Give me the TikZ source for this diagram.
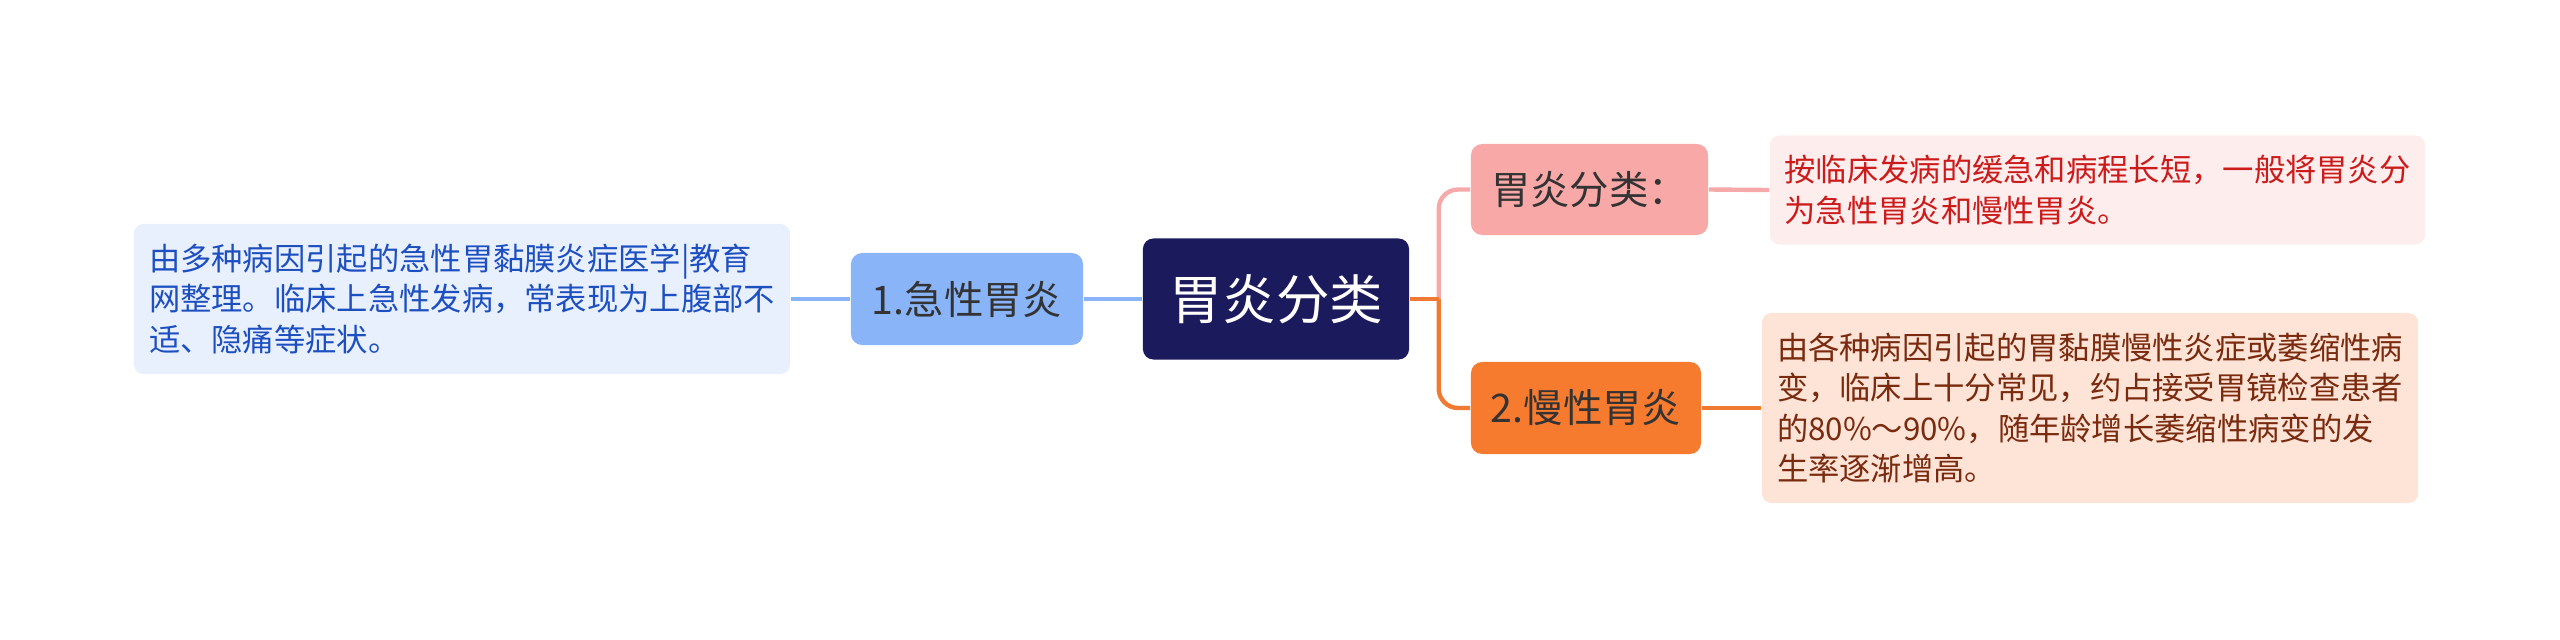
\documentclass[tikz,border=0pt]{standalone}
\usepackage{fontspec}
\setmainfont{Noto Sans CJK SC}
\definecolor{rootfill}{HTML}{1B1A5C}
\definecolor{acutefill}{HTML}{8AB4F8}
\definecolor{leafLfill}{HTML}{E8F0FE}
\definecolor{leafLtext}{HTML}{1D4FC0}
\definecolor{clsfill}{HTML}{F9A8A8}
\definecolor{leafTRfill}{HTML}{FDEDED}
\definecolor{leafTRtext}{HTML}{CC1B1B}
\definecolor{chronfill}{HTML}{F77B2F}
\definecolor{leafBRfill}{HTML}{FDE4D6}
\definecolor{leafBRtext}{HTML}{7A2A0E}
\definecolor{bluel}{HTML}{8AB4F8}
\definecolor{pinkl}{HTML}{F6A9A9}
\definecolor{orangel}{HTML}{F17A33}
\definecolor{midtext}{HTML}{333333}
\tikzset{
  box/.style={rectangle, inner sep=0pt, anchor=center},
  leafbox/.style={box, rounded corners=2.8pt, align=left, font=\fontsize{8.9pt}{11.5pt}\selectfont},
  midbox/.style={box, rounded corners=3.2pt, text=midtext, font=\fontsize{11.2pt}{13pt}\selectfont},
  rootbox/.style={box, rounded corners=3pt, fill=rootfill, text=white, font=\fontsize{15.2pt}{17pt}\selectfont},
  conn/.style={line width=1.25pt},
}
\begin{document}
\begin{tikzpicture}[x=0.01cm,y=-0.01cm]
\useasboundingbox (0,0) rectangle (2560,639);
% nodes
\node[rootbox, minimum width=2.66cm, minimum height=1.21cm] (root) at (1276,299) {胃炎分类};
\node[midbox, fill=acutefill, minimum width=2.32cm, minimum height=0.92cm] (acute) at (967,299) {1.急性胃炎};
\node[leafbox, fill=leafLfill, text=leafLtext, minimum width=6.56cm, minimum height=1.50cm] (leafL) at (462,299)
  {由多种病因引起的急性胃黏膜炎症医学|教育\\网整理。临床上急性发病，常表现为上腹部不\\适、隐痛等症状。};
\node[midbox, fill=clsfill, minimum width=2.37cm, minimum height=0.91cm] (cls) at (1589.5,189.5) {胃炎分类：};
\node[midbox, fill=chronfill, minimum width=2.30cm, minimum height=0.92cm] (chron) at (1586,408) {2.慢性胃炎};
\node[leafbox, fill=leafTRfill, text=leafTRtext, minimum width=6.55cm, minimum height=1.09cm] (leafTR) at (2097.5,190)
  {按临床发病的缓急和病程长短，一般将胃炎分\\为急性胃炎和慢性胃炎。};
\node[leafbox, fill=leafBRfill, text=leafBRtext, minimum width=6.56cm, minimum height=1.90cm] (leafBR) at (2090,408)
  {由各种病因引起的胃黏膜慢性炎症或萎缩性病\\变，临床上十分常见，约占接受胃镜检查患者\\的80\%～90\%，随年龄增长萎缩性病变的发\\生率逐渐增高。};
\coordinate (j) at (1438.7,299);
% connectors
\draw[conn, bluel] (leafL.east) -- (acute.west);
\draw[conn, bluel] (acute.east) -- (root.west);
\draw[conn, pinkl, rounded corners=5.5pt] (j) |- (cls.west);
\draw[conn, orangel, rounded corners=5.5pt] (j) |- (chron.west);
\draw[conn, orangel] (root.east) -- (j);
\draw[conn, pinkl] (cls.east) -- (leafTR.west);
\draw[conn, orangel] (chron.east) -- (leafBR.west);
\end{tikzpicture}
\end{document}
